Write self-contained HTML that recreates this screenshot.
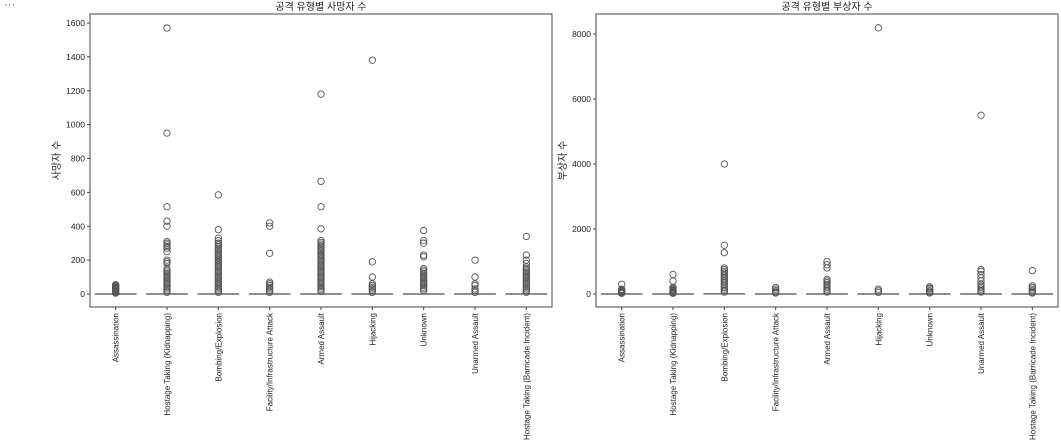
<!DOCTYPE html>
<html><head><meta charset="utf-8"><style>
body{margin:0;background:#fff;width:1061px;height:444px;overflow:hidden}
svg{display:block;font-family:"Liberation Sans","Noto Sans CJK KR",sans-serif}
</style></head><body>
<svg id="c" width="1061" height="444">
<text x="4" y="8" font-size="11" fill="#555">···</text>
</svg>
<script>
const categories=["Assassination","Hostage Taking (Kidnapping)","Bombing/Explosion","Facility/Infrastructure Attack","Armed Assault","Hijacking","Unknown","Unarmed Assault","Hostage Taking (Barricade Incident)"];
const deathMedians=[0,0,0,0,0,0,0,0,0];
const deathQ3=[1,1,2,0,3,0,2,0,1];
const deathOutliers=[
[55,50,45,40,35,30,25,20,15,10,5],
[1570,950,515,430,400,310,300,290,280,270,250,200,190,180,150,140,130,120,110,100,90,80,70,60,50,40,30,20,10],
[585,380,330,315,300,290,280,270,260,250,240,230,220,210,200,190,180,170,160,150,140,130,120,110,100,90,80,70,60,50,40,30,20,10],
[420,400,240,70,60,50,40,30,20,10],
[1180,665,515,385,315,305,295,285,275,265,255,245,235,225,215,205,195,185,175,165,155,145,135,125,115,105,95,85,75,65,55,45,35,25,15],
[1380,190,100,60,50,40,30,20,10],
[375,315,300,230,220,150,140,130,120,110,100,90,80,70,60,50,40,30,20],
[200,100,60,50,30,20,10],
[340,230,200,180,160,150,140,130,120,110,100,90,80,70,60,50,40,30,20,10]];
const injMedians=[0,0,0,0,0,0,0,0,0];
const injQ3=[2,1,20,0,5,0,3,2,1];
const injOutliers=[
[300,150,120,100,80,60,40,20],
[600,400,200,180,150,120,100,80,60,40,20],
[4000,1500,1270,800,750,700,650,600,550,500,450,400,350,300,250,200,150,100,60],
[200,150,100,60,30],
[1000,900,800,450,400,350,300,250,200,150,100,60],
[8190,150,100,50],
[220,180,150,100,60,30],
[5500,750,700,600,500,400,300,250,200,150,100,60],
[720,250,200,150,100,60,30]];
const deathTicks=[0,200,400,600,800,1000,1200,1400,1600];
const injTicks=[0,2000,4000,6000,8000];
const NS="http://www.w3.org/2000/svg",svg=document.getElementById('c');
function mk(t,a,p){const e=document.createElementNS(NS,t);for(const k in a)e.setAttribute(k,a[k]);(p||svg).appendChild(e);return e;}
function panel(x0,x1,y0,y1,vmax,ytop,title,ylab,ticks,meds,q3,outs,key){
 const g=mk('g',{});
 
 
 const y=v=>294-(v/vmax)*(294-ytop);
 const bw=(x1-x0)/categories.length;
 const xc=i=>x0+bw*(i+0.5);
 const r=mk('rect',{x:x0,y:y0,width:x1-x0,height:y1-y0,fill:'none',stroke:'#444','stroke-width':1},g);
 
 
 const t=mk('text',{x:(x0+x1)/2,y:10,'font-size':10,'text-anchor':'middle',fill:'#222'},g);t.textContent=title;
 
 
 const yl=mk('text',{transform:`translate(${x0-30},${(y0+y1)/2}) rotate(-90)`,'font-size':10,'text-anchor':'middle',fill:'#222'},g);yl.textContent=ylab;
 
 
 ticks.forEach(v=>{mk('line',{x1:x0-3,x2:x0,y1:y(v),y2:y(v),stroke:'#444'},g);
  const tt=mk('text',{x:x0-5,y:y(v)+3,'font-size':8.5,'text-anchor':'end',fill:'#222'},g);tt.textContent=v;
  
  });
 categories.forEach((c,i)=>{const cx=xc(i);
  mk('line',{x1:cx,x2:cx,y1:y1,y2:y1+3,stroke:'#444'},g);
  const lt=mk('text',{transform:`translate(${cx+3},${y1+6}) rotate(-90)`,'font-size':8,'text-anchor':'end',fill:'#222'},g);lt.textContent=c;
  
  
  const b=mk('rect',{x:cx-bw*0.4,y:Math.min(y(q3[i]),y(meds[i])-0.5),width:bw*0.8,height:Math.max(1,y(meds[i])-y(q3[i])),fill:'#aab0c0',stroke:'#777','stroke-width':0.6},g);
  
  
  mk('line',{x1:cx-bw*0.4,x2:cx+bw*0.4,y1:y(meds[i]),y2:y(meds[i]),stroke:'#666','stroke-width':0.8},g);
  outs[i].forEach(v=>{const o=mk('circle',{cx:cx,cy:y(v),r:3.2,fill:'none',stroke:'#555','stroke-width':0.9},g);
   
   });
 });
}
panel(90,552,14,307,1600,23,"공격 유형별 사망자 수","사망자 수",deathTicks,deathMedians,deathQ3,deathOutliers,'deaths');
panel(596,1058,14,307,8000,34,"공격 유형별 부상자 수","부상자 수",injTicks,injMedians,injQ3,injOutliers,'injuries');
</script>
</body></html>
